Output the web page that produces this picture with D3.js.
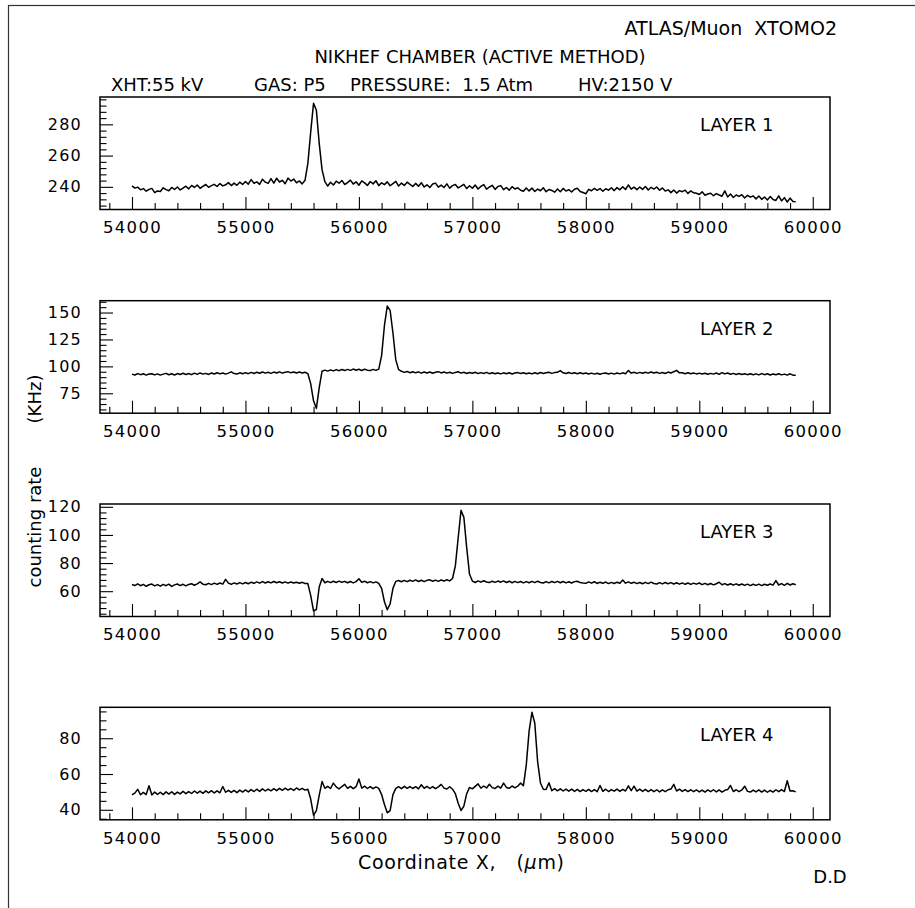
<!DOCTYPE html>
<html>
<head>
<meta charset="utf-8">
<script src="https://cdn.jsdelivr.net/npm/d3@7"></script>
<style>
body{margin:0;background:#fff;}
svg{display:block;font-family:"DejaVu Sans",sans-serif;}
</style>
</head>
<body>
<svg width="915" height="908"></svg>
<script>
// scan positions: 54000 .. 59850 um, one reading every 25 um
var xStart = 54000, xStep = 25;

// counting rate (KHz), rows of 10 readings = 250 um each
var layer1 = [
240.6,239.2,239.8,238.1,238.9,237.2,238.4,239.0,236.3,237.4,
237.0,239.4,238.2,237.5,239.6,238.3,239.9,238.0,239.2,240.4,
238.7,240.9,239.6,241.2,239.1,240.3,241.5,239.7,240.8,241.6,
240.2,242.1,240.6,241.3,242.7,240.8,242.4,241.0,243.0,241.5,
243.4,241.7,244.6,242.3,243.2,241.6,244.9,243.0,242.2,245.3,
242.4,245.5,243.1,244.2,242.0,245.6,243.7,245.0,242.6,243.8,
241.9,244.2,255.0,275.0,293.5,289.0,268.0,251.0,243.3,240.5,
242.9,241.2,243.6,242.3,244.1,241.5,242.7,244.3,241.8,243.2,
241.0,243.8,242.5,240.9,243.4,241.9,243.9,240.8,242.6,241.4,
243.2,240.7,242.1,243.5,240.5,242.4,240.9,243.0,241.6,240.3,
242.2,240.4,242.6,239.9,241.3,239.6,241.8,242.4,239.8,241.1,
239.6,241.9,239.2,240.8,241.5,239.3,240.4,241.6,238.9,240.7,
239.1,241.2,238.6,240.3,241.4,238.5,239.9,241.0,238.4,240.2,
240.8,238.2,239.6,237.9,240.1,238.6,239.4,237.8,237.2,239.3,
237.4,239.2,237.0,238.6,237.5,239.4,236.9,238.3,237.7,236.6,
238.6,236.9,239.0,237.3,238.2,236.7,238.5,239.1,237.0,236.4,
235.6,238.4,237.5,239.0,237.8,238.9,237.2,238.8,237.9,239.4,
237.6,239.5,238.1,240.0,238.3,241.2,238.5,239.8,238.2,239.9,
238.4,240.2,238.0,239.7,238.6,239.9,237.8,239.3,237.3,238.1,
236.3,238.0,236.0,237.6,236.9,237.9,235.8,237.4,236.2,235.9,
235.1,236.8,234.6,235.4,235.9,234.3,235.7,234.8,234.0,237.4,
233.5,235.4,233.2,234.8,233.9,235.0,232.9,234.6,233.4,234.2,
232.3,234.1,232.0,233.5,231.6,233.8,231.9,231.3,234.2,231.0,
233.1,230.3,232.8,230.6,230.4
];

var layer2 = [
92.8,92.0,93.3,92.3,93.1,91.9,92.9,93.2,92.1,93.0,
91.9,92.8,93.5,92.2,93.1,92.0,93.3,92.4,93.6,92.5,
93.4,92.3,93.7,92.6,93.9,92.8,93.5,92.5,93.8,92.9,
94.1,93.0,93.9,92.8,93.7,94.9,93.3,92.9,94.0,93.1,
94.2,93.2,94.4,93.4,94.6,93.6,94.8,93.7,94.5,93.5,
94.7,93.8,94.9,93.7,94.6,95.1,94.0,94.8,93.9,94.7,
93.8,94.5,93.2,84.0,68.0,61.0,80.0,95.5,96.5,95.6,
96.7,95.8,97.0,96.0,97.1,96.1,97.2,96.3,97.5,96.4,
97.3,96.2,97.4,96.5,96.1,97.2,96.3,97.5,110.0,138.0,
156.0,152.0,131.0,106.0,97.0,95.4,94.4,95.3,94.1,95.0,
94.0,94.9,93.7,94.7,93.8,94.8,93.6,94.5,95.1,93.9,
94.7,93.7,94.6,93.5,94.4,95.0,93.7,94.5,93.4,94.3,
93.6,94.5,93.3,94.2,93.4,94.4,93.2,94.1,93.1,93.9,
93.0,94.0,93.2,94.1,92.9,93.8,94.2,93.3,94.0,93.1,
93.9,93.0,94.1,93.2,94.3,93.4,94.1,94.6,93.5,94.2,
94.5,96.0,94.0,93.4,94.3,93.3,94.1,93.2,94.0,93.1,
93.8,92.9,93.7,92.8,93.6,92.7,93.5,93.9,92.9,93.7,
92.8,93.8,93.0,94.0,93.2,96.2,93.7,94.5,93.5,94.4,
93.6,94.6,93.7,94.8,93.8,94.5,93.5,94.3,93.4,94.7,
93.8,95.0,96.3,94.0,94.0,93.2,94.0,93.1,93.8,93.0,
93.7,92.9,93.6,92.7,93.5,92.8,93.8,92.6,94.2,93.0,
93.8,92.7,93.5,92.5,93.3,92.4,93.2,92.3,93.1,92.2,
93.0,92.1,93.3,92.3,93.1,92.0,92.9,92.2,93.2,92.1,
92.8,91.9,93.1,91.8,91.8
];

var layer3 = [
64.8,64.0,65.2,63.9,64.8,63.5,64.6,65.1,63.8,64.7,
63.6,64.8,63.9,65.0,63.4,64.5,65.1,64.0,64.9,63.8,
64.8,65.3,64.2,65.2,66.6,65.0,64.6,65.6,64.7,65.7,
64.8,65.8,65.0,68.4,65.7,64.9,65.9,65.1,66.1,65.2,
66.2,65.3,66.4,65.6,66.6,65.7,66.8,65.8,66.7,65.9,
66.9,66.0,66.7,65.8,66.6,65.7,66.5,65.8,66.4,65.6,
66.3,65.5,65.4,57.0,46.0,47.0,63.0,69.0,66.0,67.0,
66.1,67.1,66.2,67.2,66.3,67.0,66.0,66.9,65.9,66.8,
68.8,66.3,67.1,66.0,66.8,65.9,66.6,65.5,62.0,52.5,
46.8,51.0,62.0,67.0,67.6,66.7,67.7,66.8,67.8,67.0,
68.0,66.9,67.8,66.8,67.7,68.1,67.1,67.9,67.0,68.0,
67.2,68.1,67.3,69.0,78.0,98.0,117.5,112.5,91.0,72.0,
67.2,66.2,67.3,66.4,67.4,66.5,66.1,67.1,66.3,67.2,
66.4,67.3,66.2,67.1,66.0,67.0,66.1,66.9,65.9,66.8,
66.0,67.0,66.1,67.1,66.2,65.8,66.8,65.9,66.9,66.1,
67.0,66.0,66.9,65.9,66.7,65.8,66.8,67.1,66.1,65.8,
65.6,66.6,65.7,66.7,65.5,66.4,65.6,66.5,65.4,66.3,
65.5,66.4,65.6,67.9,65.7,66.6,65.6,66.4,65.4,66.2,
65.3,66.3,65.4,66.4,65.5,65.1,66.1,65.2,66.2,65.3,
66.1,65.1,66.0,65.0,65.9,64.9,65.8,64.8,65.7,65.0,
65.8,64.7,65.6,64.6,65.5,64.5,65.3,66.4,64.6,65.4,
64.4,65.3,64.3,65.2,64.2,65.1,64.1,65.0,64.0,64.9,
64.1,65.0,64.0,64.9,64.2,65.1,64.3,67.5,64.4,65.4,
64.2,65.6,64.4,65.3,64.6
];

var layer4 = [
48.4,49.3,51.4,48.4,49.7,48.5,53.4,48.3,49.9,48.6,
49.8,48.5,50.0,48.8,50.1,48.6,49.9,48.9,50.3,49.0,
50.2,49.1,50.5,49.3,50.4,49.2,50.6,49.5,50.7,49.4,
50.6,49.5,53.0,49.8,50.9,49.7,50.8,49.6,51.0,49.9,
51.1,50.0,51.3,50.2,51.5,50.3,51.7,50.5,51.6,50.6,
51.8,50.7,52.0,50.9,52.1,51.0,51.9,50.8,52.2,51.1,
52.0,51.0,51.5,46.0,37.0,39.5,48.0,55.8,52.0,53.1,
51.9,54.9,52.8,51.7,53.0,54.2,52.0,53.1,51.8,52.9,
57.2,52.1,53.2,51.9,53.0,51.8,52.8,52.0,48.5,43.0,
38.3,39.5,48.5,52.0,52.9,51.8,53.1,52.0,53.0,51.9,
52.9,51.7,54.0,52.0,53.1,51.9,53.0,51.8,52.8,54.2,
52.1,51.6,52.9,51.5,49.0,43.7,39.6,42.0,49.0,52.5,
51.7,53.1,54.5,52.1,53.3,52.2,54.3,52.4,51.9,53.2,
52.1,54.9,52.5,52.0,53.3,52.3,53.2,55.0,53.5,65.0,
84.0,94.5,88.5,67.0,55.0,51.5,51.4,55.1,50.7,51.8,
50.6,51.7,50.5,51.6,50.4,51.5,50.3,51.4,50.2,51.3,
50.3,51.4,50.2,51.3,50.1,53.6,50.3,51.5,50.2,51.3,
50.4,51.6,50.3,51.4,50.5,53.4,50.7,53.2,50.4,51.5,
50.3,51.4,50.2,51.3,50.1,51.2,50.0,51.1,50.1,51.2,
51.6,54.2,50.5,51.5,50.3,51.3,50.2,51.2,50.1,51.1,
50.0,51.0,49.9,51.1,50.1,51.2,50.0,51.1,49.9,50.9,
51.3,53.6,50.2,51.2,50.1,51.1,53.2,50.3,49.9,51.0,
50.0,51.1,49.9,51.0,49.8,50.9,49.9,51.2,50.1,51.3,
50.2,56.2,50.5,50.6,50.0
];

var layerNames = ["LAYER 1", "LAYER 2", "LAYER 3", "LAYER 4"];
var yDomains = [[225.5, 297.5], [56.5, 161], [42, 122], [34.4, 97.3]];
var yMajorStep = [20, 25, 20, 20];
var yMinorStep = [4, 5, 4, 5];
var xTicks = [54000, 55000, 56000, 57000, 58000, 59000, 60000];

var svg = d3.select('svg');
var left = 100, right = 830;
var panelTop = [97, 300.7, 504, 707.3];
var panelH = 112.5;

var x = d3.scaleLinear().domain([53718, 60152]).range([left, right]);
var xMinor = d3.range(53800, 60001, 200).filter(d => d % 1000 != 0);

// outer frame of the page
svg.append("rect").attr("x", 8.5).attr("y", 5.5).attr("width", 930).attr("height", 930)
  .attr("fill", "none").attr("stroke", "#333").attr("stroke-width", 1.2);

svg.append("text").attr("x", 837).attr("y", 34.5).attr("text-anchor", "end")
  .attr("font-size", 19).style("white-space", "pre").text("ATLAS/Muon  XTOMO2");
svg.append("text").attr("x", 480).attr("y", 62.5).attr("text-anchor", "middle")
  .attr("font-size", 18).text("NIKHEF CHAMBER (ACTIVE METHOD)");
var cond = [["XHT:55 kV", 111], ["GAS: P5", 254], ["PRESSURE:  1.5 Atm", 350], ["HV:2150 V", 578]];
cond.forEach(function(c){
  svg.append("text").attr("x", c[1]).attr("y", 90.5).attr("font-size", 18)
    .style("white-space", "pre").text(c[0]);
});

var series = [layer1, layer2, layer3, layer4];

series.forEach(function(vals, i){
  var top = panelTop[i], bottom = top + panelH;
  var lo = yDomains[i][0], hi = yDomains[i][1];
  var y = d3.scaleLinear().domain(yDomains[i]).range([bottom, top]);
  var g = svg.append("g");

  var yMaj = d3.range(Math.ceil(lo / yMajorStep[i]) * yMajorStep[i], hi, yMajorStep[i]);
  var yMin = d3.range(Math.ceil(lo / yMinorStep[i]) * yMinorStep[i], hi, yMinorStep[i])
    .filter(d => d % yMajorStep[i] != 0);

  // x axis: major with labels, minor without
  var ax = g.append("g").attr("transform", "translate(0," + bottom + ")")
    .call(d3.axisBottom(x).tickValues(xTicks).tickSizeInner(-12.5).tickSizeOuter(0)
      .tickPadding(12).tickFormat(d3.format("d")));
  g.append("g").attr("transform", "translate(0," + bottom + ")")
    .call(d3.axisBottom(x).tickValues(xMinor).tickSizeInner(-6.5).tickSizeOuter(0).tickFormat(""));

  var ay = g.append("g").attr("transform", "translate(" + left + ",0)")
    .call(d3.axisLeft(y).tickValues(yMaj).tickSizeInner(-13).tickSizeOuter(0)
      .tickPadding(18).tickFormat(d3.format("d")));
  g.append("g").attr("transform", "translate(" + left + ",0)")
    .call(d3.axisLeft(y).tickValues(yMin).tickSizeInner(-6.5).tickSizeOuter(0).tickFormat(""));

  g.selectAll(".domain").remove();
  g.selectAll(".tick line").attr("stroke", "#000").attr("stroke-width", 1.1);
  g.selectAll("g").attr("font-family", null).attr("font-size", null);
  ax.selectAll("text").attr("font-size", 16.5).attr("letter-spacing", "1.3px").attr("fill", "#000");
  ay.selectAll("text").attr("font-size", 16).attr("letter-spacing", "1.2px").attr("fill", "#000");

  var pts = vals.map((v, k) => [xStart + k * xStep, v]);
  g.append("path").datum(pts)
    .attr("fill", "none").attr("stroke", "#000").attr("stroke-width", 1.5)
    .attr("stroke-linejoin", "round")
    .attr("d", d3.line().x(d => x(d[0])).y(d => y(d[1])));

  g.append("rect").attr("x", left).attr("y", top).attr("width", right - left).attr("height", panelH)
    .attr("fill", "none").attr("stroke", "#000").attr("stroke-width", 1.5);

  g.append("text").attr("x", 700).attr("y", top + 34).attr("font-size", 18).text(layerNames[i]);
});

// y axis title, rotated
svg.append("text").attr("transform", "translate(41,527) rotate(-90)").attr("text-anchor", "middle")
  .attr("font-size", 18).text("counting rate");
svg.append("text").attr("transform", "translate(41,399) rotate(-90)").attr("text-anchor", "middle")
  .attr("font-size", 18).text("(KHz)");

var xt = svg.append("text").attr("x", 461).attr("y", 869).attr("text-anchor", "middle")
  .attr("font-size", 19).attr("textLength", 206).style("white-space", "pre");
xt.append("tspan").text("Coordinate X,   (");
xt.append("tspan").attr("font-style", "italic").text("\u03bc");
xt.append("tspan").text("m)");

svg.append("text").attr("x", 830).attr("y", 883).attr("text-anchor", "middle")
  .attr("font-size", 18).text("D.D");
</script>
</body>
</html>
